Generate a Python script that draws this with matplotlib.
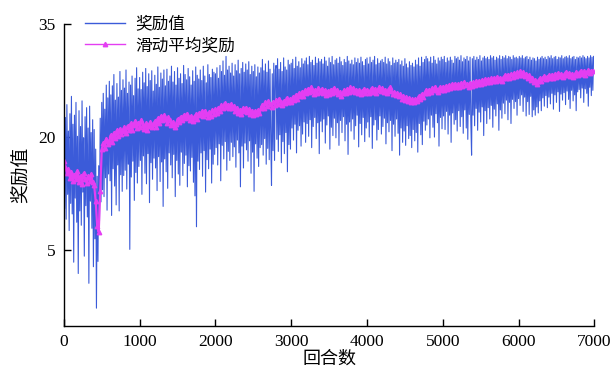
import matplotlib
matplotlib.use("Agg")
import matplotlib.pyplot as plt
import numpy as np

plt.rcParams["font.family"] = ["Noto Sans CJK SC", "DejaVu Sans"]

# 奖励值 (每10回合取一个值)
reward = [
    18.2, 10.5, 22.6, 9.1, 24.3, 12.4, 20.8, 7.6, 23.1, 11.2, 25.4, 9.8, 21.7, 3.4, 22.9, 11.9, 24.6, 8.7, 20.1, 1.9,
    23.5, 10.2, 21.4, 8.3, 24.8, 12.7, 19.9, 4.2, 22.7, 10.9, 23.9, 9.4, 21.2, 0.6, 24.1, 11.5, 20.6, 7.9, 22.3, 2.8,
    21.0, 6.5, 18.4, -2.7, 14.8, 3.5, 16.2, 8.9, 22.5, 11.4, 24.6, 13.0, 25.8, 12.1, 23.7, 14.6, 26.9, 10.3, 25.2, 15.1,
    27.4, 14.2, 25.6, 9.6, 26.8, 15.8, 28.3, 13.5, 24.9, 11.0, 27.1, 16.3, 25.3, 10.2, 28.7, 15.0, 26.2, 12.8, 27.6, 14.9,
    26.5, 15.6, 28.9, 13.1, 25.8, 16.4, 27.3, 5.1, 26.9, 14.7, 28.1, 16.8, 25.5, 11.6, 27.8, 15.3, 29.2, 13.9, 26.4, 16.1,
    27.9, 16.9, 26.3, 12.4, 28.6, 17.5, 27.2, 15.2, 29.1, 13.8, 26.7, 17.8, 28.4, 11.3, 27.5, 16.6, 28.8, 14.4, 26.1, 17.2,
    28.2, 15.9, 27.0, 12.9, 29.3, 17.4, 26.6, 14.1, 28.5, 16.7, 27.7, 10.8, 28.9, 17.1, 26.8, 15.4, 29.0, 13.2, 27.4, 17.9,
    28.1, 16.3, 29.4, 14.6, 27.3, 17.7, 28.7, 12.1, 26.9, 16.9, 29.2, 15.1, 27.8, 13.6, 28.4, 18.0, 27.1, 14.9, 29.5, 16.5,
    28.3, 17.6, 27.6, 13.4, 29.1, 16.2, 28.0, 15.5, 26.9, 17.3, 28.8, 14.0, 27.4, 12.2, 29.3, 8.1, 28.2, 16.8, 27.7, 15.7,
    28.9, 17.9, 27.5, 14.8, 29.4, 18.2, 28.1, 12.7, 27.2, 17.0, 29.6, 15.8, 28.3, 18.4, 27.9, 13.9, 29.0, 16.4, 28.6, 17.7,
    28.4, 18.6, 29.2, 16.3, 27.8, 19.1, 29.5, 14.2, 28.7, 18.9, 30.1, 17.1, 28.2, 19.4, 30.7, 15.6, 28.9, 18.1, 29.4, 16.9,
    28.5, 19.3, 29.8, 17.4, 28.1, 18.7, 29.6, 16.0, 28.8, 19.6, 30.2, 17.9, 28.4, 13.4, 29.1, 18.8, 29.9, 15.9, 28.6, 19.2,
    29.7, 18.3, 28.9, 16.8, 30.0, 19.5, 28.3, 15.2, 29.4, 18.0, 28.7, 12.8, 29.6, 19.1, 28.0, 17.2, 29.3, 16.1, 28.5, 18.6,
    29.2, 19.0, 30.3, 17.6, 28.8, 19.8, 29.7, 16.4, 28.6, 18.5, 30.1, 17.0, 29.0, 19.9, 13.6, 28.4, 18.2, 29.8, 16.9, 28.9,
    29.5, 19.7, 30.4, 18.1, 29.0, 20.3, 29.9, 16.6, 28.7, 19.4, 30.5, 17.8, 29.3, 20.6, 28.9, 15.4, 30.2, 19.0, 29.6, 18.4,
    29.8, 21.2, 30.3, 19.6, 29.1, 21.7, 30.6, 17.9, 29.4, 20.9, 30.0, 21.5, 29.2, 18.8, 30.4, 20.4, 29.7, 22.0, 30.1, 19.3,
    30.5, 21.8, 29.6, 20.1, 30.7, 22.3, 29.9, 18.6, 30.2, 21.4, 29.5, 22.6, 30.6, 19.8, 29.8, 21.9, 30.4, 17.8, 30.0, 22.1,
    30.3, 20.7, 29.7, 22.4, 30.6, 19.2, 30.1, 21.6, 29.4, 22.8, 30.5, 18.4, 29.9, 21.3, 30.7, 20.2, 29.6, 22.5, 30.2, 19.9,
    30.4, 21.9, 29.8, 18.9, 30.6, 22.2, 30.0, 20.6, 29.5, 22.7, 30.3, 19.5, 29.9, 21.7, 30.7, 17.7, 30.1, 22.0, 29.7, 20.8,
    30.2, 22.4, 29.6, 19.7, 30.5, 21.5, 29.9, 22.9, 30.4, 18.7, 29.8, 21.8, 30.6, 20.3, 30.0, 22.6, 29.5, 19.4, 30.3, 21.2,
    30.5, 22.0, 29.7, 20.0, 30.6, 22.7, 29.9, 18.5, 30.2, 21.6, 30.7, 22.3, 29.6, 19.6, 30.4, 21.0, 29.8, 22.8, 30.1, 20.4,
    30.3, 21.4, 29.9, 22.5, 30.6, 19.1, 29.7, 21.9, 30.4, 20.7, 30.0, 22.2, 29.5, 18.2, 30.5, 21.7, 29.8, 20.1, 30.2, 22.4,
    29.9, 20.5, 30.3, 17.6, 29.6, 21.2, 30.1, 19.3, 29.4, 20.8, 30.4, 18.9, 29.7, 21.5, 29.2, 19.8, 30.0, 20.2, 29.5, 18.6,
    29.8, 21.0, 29.3, 19.5, 30.2, 20.6, 29.6, 18.0, 30.5, 21.8, 29.4, 20.3, 30.6, 19.0, 29.9, 22.1, 30.3, 20.9, 30.7, 21.6,
    30.4, 22.4, 30.0, 19.9, 30.6, 22.9, 29.8, 21.3, 30.7, 20.0, 30.2, 23.1, 29.7, 21.9, 30.5, 18.8, 30.1, 22.6, 30.6, 21.1,
    30.3, 22.8, 30.7, 21.0, 29.9, 23.4, 30.5, 20.4, 30.1, 22.9, 30.6, 19.3, 30.2, 23.2, 29.8, 21.7, 30.7, 22.3, 30.4, 20.8,
    30.6, 23.5, 30.2, 21.4, 30.8, 22.7, 30.0, 20.5, 30.5, 23.6, 30.3, 21.2, 30.7, 19.7, 30.1, 23.0, 30.6, 22.1, 17.6, 30.4,
    22.9, 30.7, 21.5, 30.2, 23.8, 30.6, 20.9, 30.3, 23.3, 30.8, 22.0, 30.1, 24.0, 30.5, 20.2, 30.7, 23.5, 30.4, 21.8, 30.6,
    23.9, 30.3, 22.4, 30.8, 24.2, 30.5, 21.3, 30.7, 23.7, 30.2, 22.8, 30.6, 24.4, 30.4, 20.9, 30.8, 23.6, 30.3, 22.5, 30.7,
    24.5, 30.5, 23.1, 30.8, 24.9, 30.4, 22.3, 30.7, 24.6, 30.6, 21.8, 30.3, 25.0, 30.8, 23.8, 30.5, 24.7, 30.6, 22.9, 30.4,
    25.1, 30.7, 24.2, 30.5, 25.6, 30.8, 23.4, 30.4, 25.3, 30.6, 22.8, 30.7, 24.7, 30.3, 23.0, 30.6, 25.4, 30.2, 22.7, 30.5,
    23.6, 30.4, 22.9, 30.1, 24.0, 30.6, 23.2, 30.3, 24.8, 30.5, 23.5, 30.7, 25.2, 30.4, 24.1, 30.6, 25.5, 30.3, 23.9, 30.7,
    25.3, 30.5, 24.4, 30.8, 25.8, 30.4, 23.7, 30.6, 25.6, 30.7, 24.6, 30.3, 26.0, 30.6, 23.4, 30.5, 25.7, 30.8, 24.9, 30.4,
    25.9, 30.6, 24.3, 30.7, 26.1, 30.5, 25.0, 30.8, 23.8, 30.4, 26.2, 30.6, 24.8, 30.7, 25.6, 30.3, 23.5, 30.6, 26.0, 30.5,
    26.3, 30.7, 25.2, 30.5, 26.5, 30.8, 24.6, 30.6, 26.4, 30.4, 25.8, 30.7, 24.1, 30.5, 26.6, 30.8, 25.5, 30.6, 26.2, 30.7,
]

# 滑动平均奖励 (每20回合取一个值)
avg_reward = [
    16.8, 16.0, 15.2, 15.7, 14.6, 15.3, 14.2, 15.0, 14.4, 15.5,
    14.1, 14.9, 13.8, 15.2, 14.5, 13.9, 14.8, 14.2, 15.1, 14.0,
    13.6, 11.5, 8.2, 7.4, 12.8, 18.4, 19.2, 18.6, 19.8, 19.1,
    19.5, 20.3, 19.4, 20.6, 19.9, 20.9, 20.2, 21.1, 20.4, 20.8,
    21.3, 20.6, 21.5, 20.9, 21.8, 21.0, 21.6, 22.1, 21.2, 21.9,
    21.4, 22.2, 21.6, 21.1, 21.8, 20.9, 21.5, 22.0, 21.3, 21.7,
    22.1, 21.4, 22.5, 21.9, 22.8, 22.2, 22.9, 22.4, 21.8, 22.6,
    22.2, 21.6, 22.0, 21.3, 21.7, 22.4, 22.0, 22.7, 22.3, 22.9,
    22.5, 23.1, 22.6, 22.2, 22.8, 22.1, 22.6, 23.0, 22.4, 23.2,
    22.9, 23.4, 22.8, 23.5, 23.0, 22.6, 23.3, 22.8, 23.6, 23.1,
    23.7, 23.2, 23.9, 23.4, 24.2, 23.8, 24.5, 24.0, 24.3, 23.9,
    24.4, 23.8, 24.1, 23.5, 23.9, 23.2, 23.6, 23.1, 23.8, 23.4,
    23.9, 23.3, 23.7, 23.0, 23.5, 22.9, 23.4, 23.1, 23.6, 23.2,
    23.8, 24.3, 23.9, 24.6, 24.1, 24.8, 24.4, 24.0, 24.7, 24.3,
    24.9, 24.4, 25.1, 24.6, 24.2, 24.8, 24.5, 25.2, 24.7, 25.0,
    24.6, 25.3, 24.9, 25.6, 25.1, 25.8, 25.4, 26.0, 25.5, 26.2,
    25.8, 26.4, 26.0, 26.6, 26.1, 25.7, 26.3, 25.9, 26.5, 26.0,
    26.4, 25.8, 26.2, 25.6, 26.1, 25.7, 26.3, 25.9, 26.5, 26.0,
    26.2, 25.7, 26.0, 25.5, 25.9, 26.3, 25.8, 26.4, 26.0, 26.6,
    26.1, 26.5, 26.0, 26.3, 25.8, 26.2, 25.7, 26.1, 26.4, 25.9,
    26.3, 25.8, 26.1, 26.5, 26.0, 26.4, 25.9, 26.2, 26.6, 26.1,
    26.5, 26.0, 26.3, 25.8, 26.2, 26.6, 26.1, 25.7, 26.0, 25.6,
    25.9, 25.4, 25.7, 25.1, 25.5, 24.9, 25.3, 24.8, 25.2, 24.7,
    25.0, 24.6, 25.1, 24.8, 25.4, 25.0, 25.7, 25.3, 25.9, 26.2,
    25.8, 26.3, 26.0, 26.5, 26.2, 26.7, 26.3, 26.0, 26.6, 26.2,
    26.7, 26.3, 26.8, 26.4, 26.9, 26.5, 27.0, 26.6, 27.1, 26.7,
    27.0, 26.6, 27.2, 26.8, 27.3, 26.9, 27.1, 26.7, 27.2, 26.8,
    27.3, 26.9, 27.4, 27.0, 27.5, 27.1, 27.6, 27.2, 27.7, 27.3,
    27.7, 27.3, 27.8, 27.4, 27.9, 27.5, 28.0, 27.6, 27.9, 27.5,
    27.9, 28.2, 27.8, 28.3, 27.9, 28.4, 28.0, 28.5, 28.1, 28.6,
    28.3, 28.7, 28.2, 28.6, 28.1, 28.4, 27.9, 28.2, 27.6, 27.9,
    27.3, 27.6, 27.1, 27.5, 27.8, 27.4, 27.9, 28.1, 27.7, 28.0,
    28.2, 27.8, 28.3, 27.9, 28.4, 28.0, 28.5, 28.1, 28.4, 28.0,
    28.3, 28.6, 28.2, 28.5, 28.1, 28.4, 28.0, 28.3, 28.6, 28.2,
    28.5, 28.8, 28.4, 28.7, 28.3, 28.6, 28.9, 28.5, 28.8, 28.7,
]

ep_reward = np.arange(len(reward)) * 10
ep_avg = np.arange(len(avg_reward)) * 20

BLUE = "#3b5bd9"
MAGENTA = "#e43ef2"
NUM_FONT = "Liberation Serif"

fig = plt.figure(figsize=(6.14, 3.75), dpi=100)
ax = fig.add_axes([0.104, 0.132, 0.864, 0.804])

ax.plot(ep_reward, reward, color=BLUE, linewidth=0.8, label="奖励值")
ax.plot(ep_avg, avg_reward, color=MAGENTA, linewidth=1.6, marker="^",
        markersize=3.2, label="滑动平均奖励")

ax.set_xlim(0, 7000)
ax.set_ylim(-5, 35)
ax.set_xticks(range(0, 7001, 1000))
ax.set_yticks([5, 20, 35])
ax.tick_params(direction="in", length=5, width=1.0, labelsize=12.5, pad=6)
for lbl in ax.get_xticklabels() + ax.get_yticklabels():
    lbl.set_fontfamily(NUM_FONT)

for side in ("top", "right"):
    ax.spines[side].set_visible(False)
for side in ("left", "bottom"):
    ax.spines[side].set_linewidth(1.0)

ax.set_xlabel("回合数", fontsize=13, labelpad=0)
ax.set_ylabel("奖励值", fontsize=13.5, labelpad=5)

leg = ax.legend(loc="upper left", bbox_to_anchor=(0.028, 1.05), frameon=False,
                fontsize=12, handlelength=2.4, handletextpad=0.6,
                labelspacing=0.25, borderaxespad=0)
for h in leg.legend_handles:
    h.set_linewidth(1.0)

fig.savefig("out.png", dpi=100)
plt.close(fig)
